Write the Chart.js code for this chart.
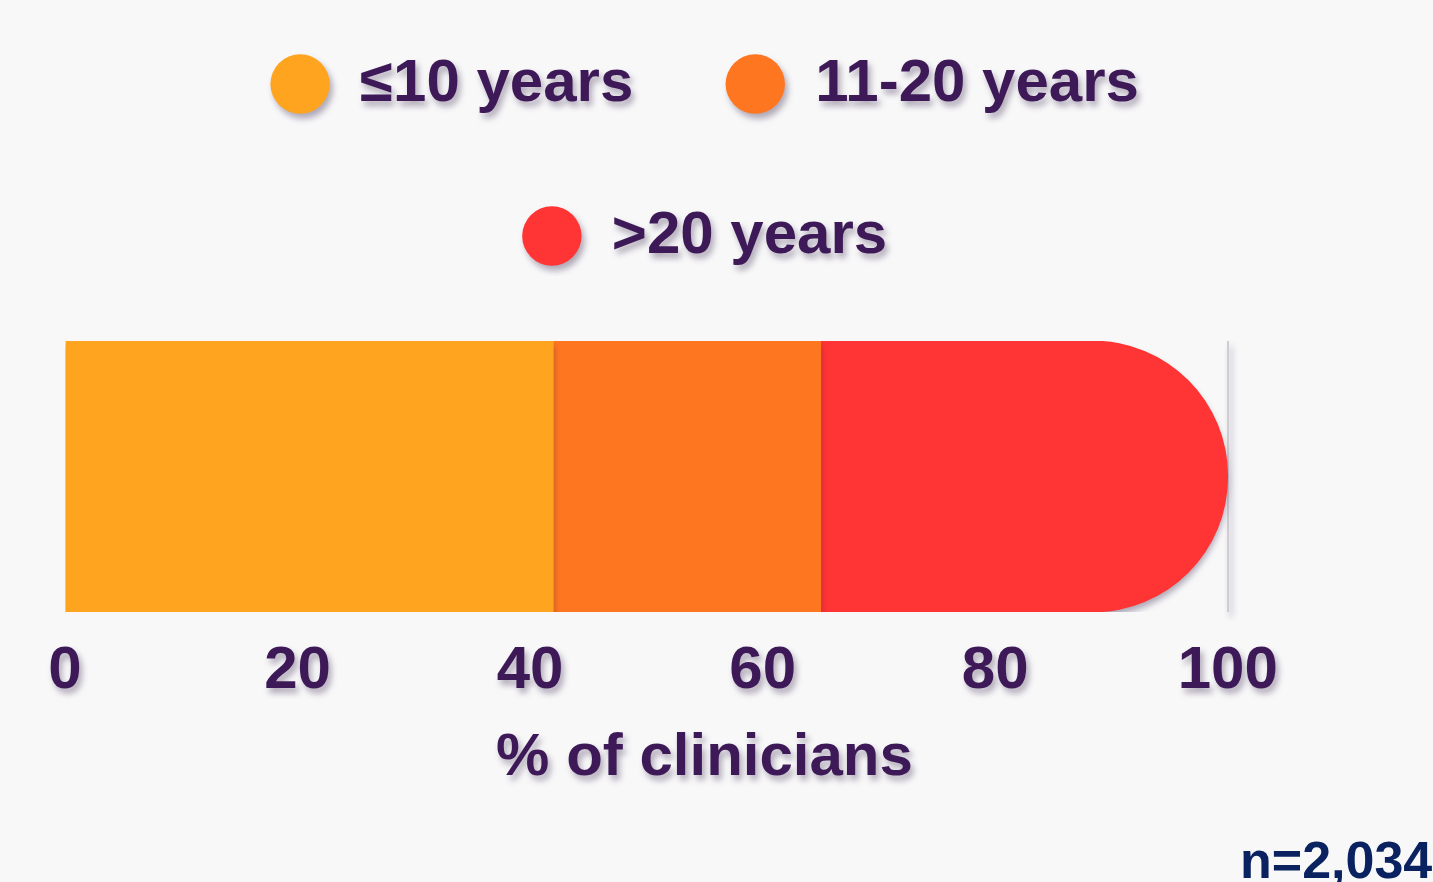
<!DOCTYPE html>
<html>
<head>
<meta charset="utf-8">
<title>Clinicians by years of experience</title>
<script src="https://cdn.jsdelivr.net/npm/chart.js@4.4.1/dist/chart.umd.min.js"></script>
<style>
  html, body { margin: 0; padding: 0; background: #f8f8f9; }
  #wrap { position: relative; width: 1433px; height: 882px; overflow: hidden; }
  #note {
    position: absolute; left: 1240px; top: 834px;
    font: bold 52px "Liberation Sans", Arial, sans-serif;
    line-height: 52px; color: #0b2260; white-space: nowrap;
  }
</style>
</head>
<body>
<div id="wrap">
  <canvas id="yearsChart" width="1433" height="882"></canvas>
  <div id="note">n=2,034</div>
</div>
<script>
// === data ===
const categories = ['Clinicians'];
const seriesLabels = ['≤10 years', '11-20 years', '>20 years'];
const shareUpTo10 = [42];
const share11to20 = [23];
const shareOver20 = [35];
const xTickValues = [0, 20, 40, 60, 80, 100];

const seriesColors = ['#ffa41f', '#ff7620', '#ff3434'];
const textColor = '#3d1a57';
const fontFamily = '"Liberation Sans", Arial, sans-serif';

// soft drop shadow under everything (text, bar, legend dots)
const shadowPlugin = {
    id: 'softShadow',
    beforeDraw(chart) {
        const c = chart.ctx;
        c.shadowColor = 'rgba(40, 20, 60, 0.35)';
        c.shadowBlur = 6;
        c.shadowOffsetX = 3;
        c.shadowOffsetY = 5;
    },
    beforeDatasetsDraw(chart) {
        // bar shadow only falls downward, so segment joins stay clean
        chart.ctx.shadowOffsetX = 0;
    },
    afterDraw(chart) {
        const c = chart.ctx;
        c.shadowColor = 'transparent';
        c.shadowBlur = 0;
        c.shadowOffsetX = 0;
        c.shadowOffsetY = 0;
    }
};

const ctx = document.getElementById('yearsChart').getContext('2d');
new Chart(ctx, {
    type: 'bar',
    data: {
        labels: categories,
        datasets: [
            { label: seriesLabels[0], data: shareUpTo10, backgroundColor: seriesColors[0], borderWidth: 0, borderRadius: 0 },
            { label: seriesLabels[1], data: share11to20, backgroundColor: seriesColors[1], borderWidth: 0, borderRadius: 0 },
            { label: seriesLabels[2], data: shareOver20, backgroundColor: seriesColors[2], borderWidth: 0,
              borderRadius: { topLeft: 0, bottomLeft: 0, topRight: 135, bottomRight: 135 } }
        ]
    },
    options: {
        indexAxis: 'y',
        responsive: false,
        animation: false,
        barPercentage: 1,
        categoryPercentage: 1,
        layout: { padding: { top: -38, left: 65, right: 89, bottom: 88 } },
        plugins: {
            tooltip: { enabled: false },
            legend: {
                position: 'top',
                labels: {
                    usePointStyle: true,
                    pointStyle: 'circle',
                    boxWidth: 60,
                    boxHeight: 42,
                    padding: 92,
                    color: textColor,
                    font: { family: fontFamily, size: 60, weight: 'bold' }
                }
            }
        },
        scales: {
            x: {
                stacked: true,
                min: 0,
                max: 110,
                afterBuildTicks: s => { s.ticks = xTickValues.map(v => ({ value: v })); },
                border: { display: false },
                grid: {
                    drawTicks: false,
                    lineWidth: 2,
                    color: c => c.tick && c.tick.value === 100 ? '#cfccd4' : 'transparent'
                },
                ticks: {
                    padding: 23,
                    color: textColor,
                    font: { family: fontFamily, size: 60, weight: 'bold' }
                },
                title: {
                    display: true,
                    text: '% of clinicians',
                    color: textColor,
                    padding: { top: -8, bottom: 0 },
                    font: { family: fontFamily, size: 60, weight: 'bold' }
                }
            },
            y: { stacked: true, display: false },
            // empty band between legend and bar
            gap: {
                type: 'linear',
                position: 'top',
                display: true,
                grid: { display: false },
                ticks: { display: false },
                border: { display: false },
                afterFit: s => { s.height = 65; }
            }
        }
    },
    plugins: [shadowPlugin]
});
</script>
</body>
</html>
